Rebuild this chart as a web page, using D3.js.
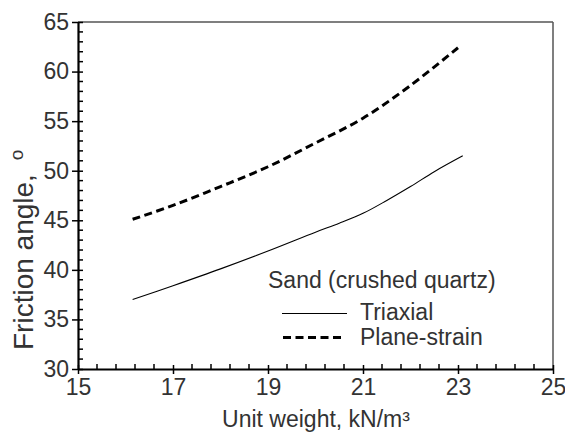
<!DOCTYPE html>
<html><head><meta charset="utf-8">
<script src="https://cdn.jsdelivr.net/npm/d3@7"></script>
<style>body{margin:0;background:#fff}svg{display:block}text{font-family:"Liberation Sans",Arial,sans-serif;fill:#333}</style>
</head><body>
<svg id="c" width="565" height="435"></svg>
<script>
const triaxialX = [16.15, 17.0, 18.0, 19.0, 20.0, 20.5, 21.0, 21.5, 22.0, 22.5, 23.1];
const triaxialY = [37.0, 38.4, 40.1, 41.9, 43.8, 44.7, 45.7, 47.0, 48.4, 49.9, 51.5];
const planeX = [16.15, 17.0, 18.0, 19.0, 20.0, 21.0, 22.0, 23.0];
const planeY = [45.1, 46.5, 48.4, 50.4, 52.8, 55.3, 58.6, 62.4];
const xTicks = [15, 17, 19, 21, 23, 25];
const yTicks = [30, 35, 40, 45, 50, 55, 60, 65];
const legendTitle = "Sand (crushed quartz)";
const seriesNames = ["Triaxial", "Plane-strain"];

const FS = 23;
const svg = d3.select("#c");
const L = 78, R = 553, T = 22, B = 369;
const x = d3.scaleLinear().domain([15, 25]).range([L, R]);
const y = d3.scaleLinear().domain([30, 65]).range([B, T]);

svg.append("line").attr("x1", L).attr("x2", R).attr("y1", T).attr("y2", T).attr("stroke", "#555").attr("stroke-width", 1.5);
svg.append("line").attr("x1", R).attr("x2", R).attr("y1", T).attr("y2", B).attr("stroke", "#555").attr("stroke-width", 1.5);

const xMinor = d3.range(15, 25.001, 0.4).filter(v => !xTicks.some(t => Math.abs(t - v) < 1e-6));
const yMinor = d3.range(30, 65.001, 1).filter(v => !yTicks.some(t => Math.abs(t - v) < 1e-6));
svg.append("g").selectAll("line").data(xMinor).join("line")
  .attr("x1", d => x(d)).attr("x2", d => x(d)).attr("y1", B).attr("y2", B - 5)
  .attr("stroke", "#000").attr("stroke-width", 1.5);
svg.append("g").selectAll("line").data(yMinor).join("line")
  .attr("y1", d => y(d)).attr("y2", d => y(d)).attr("x1", L).attr("x2", L + 5)
  .attr("stroke", "#000").attr("stroke-width", 1.5);

const gx = svg.append("g").attr("transform", `translate(0,${B})`)
  .call(d3.axisBottom(x).tickValues(xTicks).tickSize(5).tickPadding(5).tickSizeOuter(0));
gx.select(".domain").attr("stroke", "#000").attr("stroke-width", 2.2);
gx.selectAll(".tick line").attr("y1", -4).attr("stroke", "#000").attr("stroke-width", 1.5);
gx.selectAll(".tick text").attr("font-size", FS).attr("fill", "#333").attr("font-family", "Liberation Sans, Arial, sans-serif");

const gy = svg.append("g").attr("transform", `translate(${L},0)`)
  .call(d3.axisLeft(y).tickValues(yTicks).tickSize(6).tickPadding(3).tickSizeOuter(0));
gy.select(".domain").attr("stroke", "#000").attr("stroke-width", 2.2);
gy.selectAll(".tick line").attr("x2", -6).attr("x1", 5).attr("stroke", "#000").attr("stroke-width", 1.5);
gy.selectAll(".tick text").attr("font-size", FS).attr("fill", "#333").attr("font-family", "Liberation Sans, Arial, sans-serif");

svg.append("text").attr("x", 316).attr("y", 427).attr("text-anchor", "middle").attr("font-size", FS)
  .text("Unit weight, kN/m³");
const yl = svg.append("text").attr("transform", "translate(33,350) rotate(-90)").attr("text-anchor", "start").attr("font-size", 28);
yl.append("tspan").text("Friction angle,");
yl.append("tspan").attr("dx", 14).attr("dy", -10).attr("font-size", 19).text("o");

const line = d3.line().x(d => x(d[0])).y(d => y(d[1])).curve(d3.curveCatmullRom);
svg.append("path").datum(triaxialX.map((v, i) => [v, triaxialY[i]])).attr("d", line)
  .attr("fill", "none").attr("stroke", "#000").attr("stroke-width", 1.1);
svg.append("path").datum(planeX.map((v, i) => [v, planeY[i]])).attr("d", line)
  .attr("fill", "none").attr("stroke", "#000").attr("stroke-width", 3).attr("stroke-dasharray", "8,4.5");

svg.append("text").attr("x", 268).attr("y", 288).attr("font-size", FS).text(legendTitle);
svg.append("line").attr("x1", 282).attr("x2", 347).attr("y1", 313.5).attr("y2", 313.5).attr("stroke", "#000").attr("stroke-width", 1.1);
svg.append("text").attr("x", 360).attr("y", 320).attr("font-size", FS).text(seriesNames[0]);
svg.append("line").attr("x1", 283).attr("x2", 341).attr("y1", 337.5).attr("y2", 337.5).attr("stroke", "#000").attr("stroke-width", 3).attr("stroke-dasharray", "8,4.5");
svg.append("text").attr("x", 360).attr("y", 345).attr("font-size", FS).text(seriesNames[1]);
</script>
</body></html>
